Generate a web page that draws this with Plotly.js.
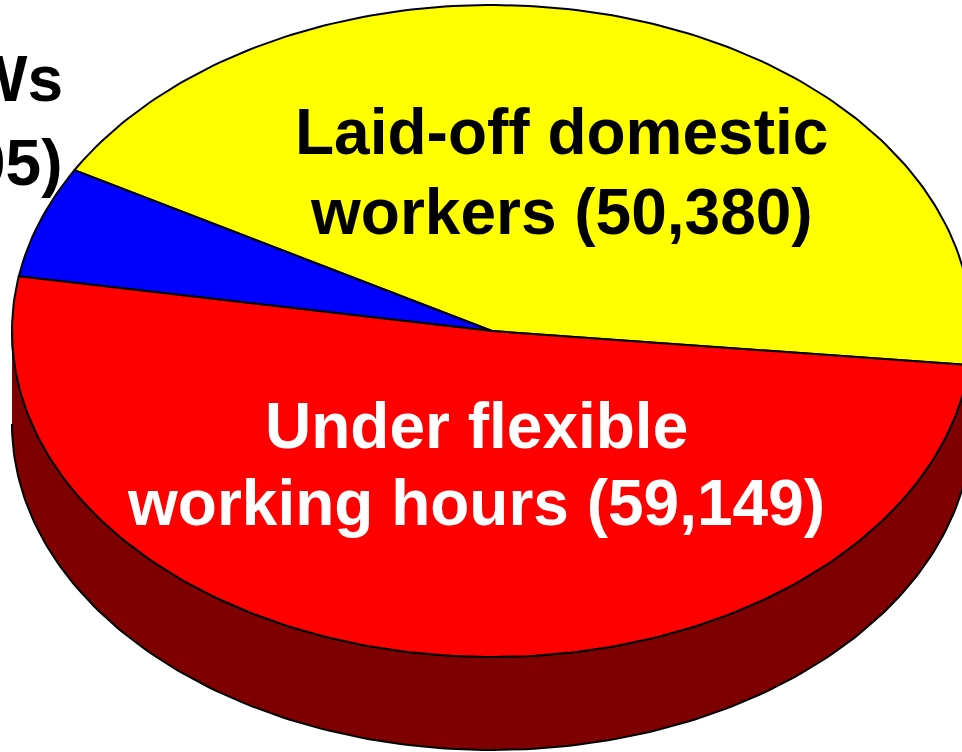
<!DOCTYPE html>
<html>
<head>
<meta charset="utf-8">
<script src="https://cdn.plot.ly/plotly-3.0.1.min.js"></script>
<style>html,body{margin:0;padding:0;background:#fff;overflow:hidden}#chart{width:962px;height:752px}</style>
</head>
<body>
<div id="chart"></div>
<script>
// Data
const categories = ['Laid-off domestic workers', 'Ws', 'Under flexible working hours'];
const values = [50380, 6405, 59149];
const sliceColors = ['#ffff00', '#0000ff', '#ff0000'];
const wallColor = '#7f0000';

// Tilted-pie geometry, in pixels of the axes
const radiusX = 480, radiusY = 326, wallDepth = 93, startAngle = -6;
const total = values.reduce((a, b) => a + b, 0);
const rad = d => d * Math.PI / 180;
const rimX = d => radiusX * Math.cos(rad(d));
const rimY = d => radiusY * Math.sin(rad(d));

function arc(from, to) {
  const xs = [], ys = [];
  const n = Math.max(2, Math.ceil(Math.abs(to - from)));
  for (let i = 0; i <= n; i++) {
    const d = from + (to - from) * i / n;
    xs.push(rimX(d)); ys.push(rimY(d));
  }
  return {xs, ys};
}

const traces = [];
// Side wall of the front half
const wallTop = arc(180, 360), wallBottom = arc(360, 180);
traces.push({
  type: 'scatter', mode: 'lines', fill: 'toself', fillcolor: wallColor,
  x: wallTop.xs.concat(wallBottom.xs),
  y: wallTop.ys.concat(wallBottom.ys.map(v => v - wallDepth)),
  line: {color: '#000', width: 2}, hoverinfo: 'skip', name: 'wall'
});
// Top face slices
let angle = startAngle;
values.forEach((v, i) => {
  const sweep = v / total * 360;
  const a = arc(angle, angle + sweep);
  traces.push({
    type: 'scatter', mode: 'lines', fill: 'toself', fillcolor: sliceColors[i],
    x: [0].concat(a.xs, [0]),
    y: [0].concat(a.ys, [0]),
    line: {color: '#000', width: 2}, name: categories[i], hoverinfo: 'name'
  });
  angle += sweep;
});

const labelFont = {family: '"Liberation Sans", Arial, sans-serif', size: 64, color: '#000'};
const whiteFont = Object.assign({}, labelFont, {color: '#fff'});
const layout = {
  width: 962, height: 752,
  margin: {l: 0, r: 0, t: 0, b: 0},
  paper_bgcolor: '#fff', plot_bgcolor: 'rgba(0,0,0,0)',
  showlegend: false,
  xaxis: {range: [-492, 470], visible: false, fixedrange: true},
  yaxis: {range: [-421, 331], visible: false, fixedrange: true},
  annotations: [
    {x: 69, y: 199, text: '<b>Laid-off domestic</b>', font: labelFont},
    {x: 69, y: 119, text: '<b>workers (50,380)</b>', font: labelFont},
    {x: -16, y: -95, text: '<b>Under flexible</b>', font: whiteFont},
    {x: -16, y: -172, text: '<b>working hours (59,149)</b>', font: whiteFont},
    {x: -429, y: 252, xanchor: 'right', text: '<b>Ws</b>', font: labelFont},
    {x: -429, y: 168, xanchor: 'right', text: '<b>05)</b>', font: labelFont}
  ].map(a => Object.assign({showarrow: false, xref: 'x', yref: 'y', borderpad: 0, borderwidth: 0}, a))
};
Plotly.newPlot('chart', traces, layout, {displayModeBar: false, staticPlot: true});
</script>
</body>
</html>
